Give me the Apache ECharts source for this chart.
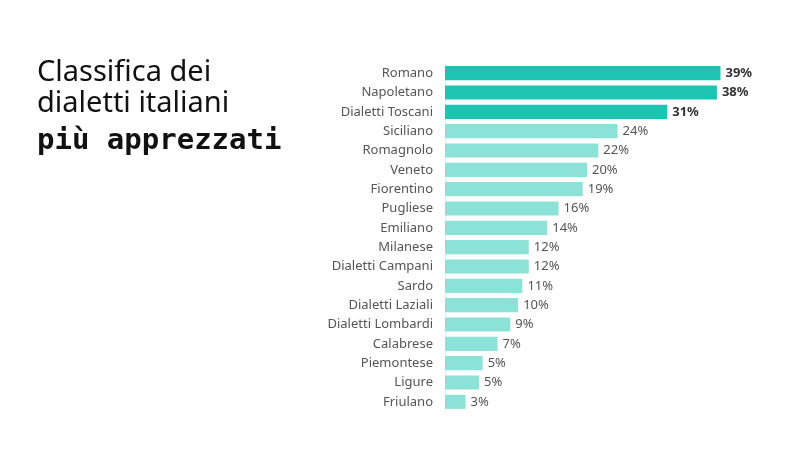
<!DOCTYPE html>
<html>
<head>
<meta charset="utf-8">
<script src="https://cdn.jsdelivr.net/npm/echarts@6/dist/echarts.min.js"></script>
<style>html,body{margin:0;padding:0;background:#fff;}#c{width:800px;height:450px;}</style>
</head>
<body>
<div id="c"></div>
<script>
const categories = ["Romano","Napoletano","Dialetti Toscani","Siciliano","Romagnolo","Veneto","Fiorentino","Pugliese","Emiliano","Milanese","Dialetti Campani","Sardo","Dialetti Laziali","Dialetti Lombardi","Calabrese","Piemontese","Ligure","Friulano"];
const values = [38.8, 38.3, 31.3, 24.3, 21.6, 20.0, 19.4, 16.0, 14.4, 11.8, 11.8, 10.9, 10.3, 9.2, 7.4, 5.3, 4.8, 2.9];
const highlightCount = 3;
const titleLines = ["Classifica dei", "dialetti italiani", "più apprezzati"];

const chart = echarts.init(document.getElementById('c'));
const dark = '#1cc4b1', light = '#8de2d8';
chart.setOption({
  backgroundColor: '#fff',
  animation: false,
  graphic: [
    {type:'text', left: 37, top: 58, style:{text: titleLines[0], font: '400 29px "Noto Sans"', fill:'#111'}},
    {type:'text', left: 37, top: 89, style:{text: titleLines[1], font: '400 29px "Noto Sans"', fill:'#111'}},
    {type:'text', left: 37, top: 127, style:{text: titleLines[2], font: 'bold 29px "DejaVu Sans Mono"', fill:'#111'}}
  ],
  grid: {left: 445, top: 63.5, bottom: 38.5, right: 35.5, containLabel: false},
  xAxis: {type:'value', min: 0, max: 45, show: false},
  yAxis: {
    type:'category', data: categories, inverse: true,
    axisLine:{show:true, lineStyle:{color:'#ececec', width:1}},
    axisTick:{show:false},
    axisLabel:{color:'#555', fontSize:13, fontFamily:'Noto Sans', margin:12}
  },
  series: [{
    type:'bar',
    barCategoryGap: '27%',
    data: values.map((v,i)=>({
      value: v,
      itemStyle:{color: i < highlightCount ? dark : light},
      label:{fontWeight: i < highlightCount ? 'bold' : 'normal', color: i < highlightCount ? '#333' : '#555'}
    })),
    label:{show:true, position:'right', distance:5, fontSize:13, fontFamily:'Noto Sans',
      formatter: p => Math.round(p.value) + '%'}
  }]
});
</script>
</body>
</html>
